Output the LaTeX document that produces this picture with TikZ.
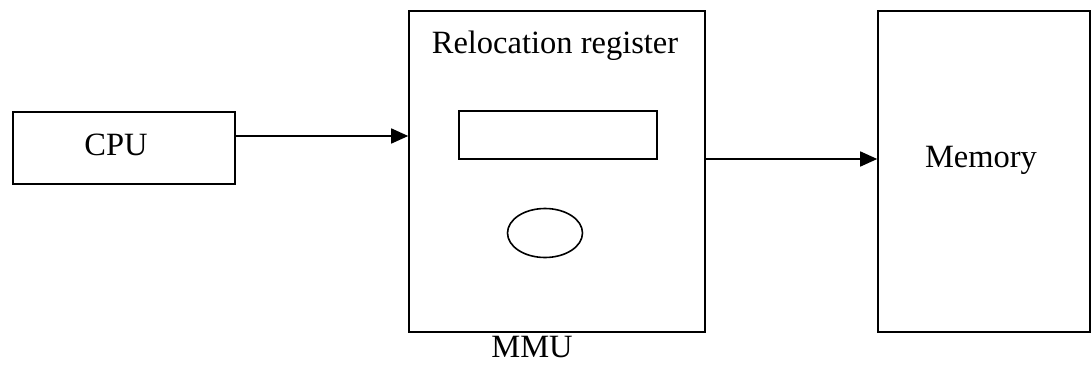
\documentclass[tikz,border=0pt]{standalone}
\usepackage{fontspec}
\setmainfont{Liberation Serif}
\usetikzlibrary{arrows.meta,shapes.geometric}
\begin{document}
\begin{tikzpicture}[x=1pt,y=-1pt,
  box/.style={draw,line width=1.6pt,inner sep=0pt},
  lbl/.style={font=\fontsize{32.5}{38}\selectfont,inner sep=0pt,anchor=base},
  conn/.style={line width=1.6pt,-{Triangle[length=17pt,width=15pt]}}]
\useasboundingbox (0,0) rectangle (1091,364);
\node[box,minimum width=222pt,minimum height=72pt] (cpu) at (124,148) {};
\node[box,minimum width=296pt,minimum height=321pt] (mmu) at (557,171.5) {};
\node[box,minimum width=212pt,minimum height=321pt] (mem) at (984,171.5) {};
\node[box,minimum width=198pt,minimum height=48pt] (reg) at (558,135) {};
\node[box,ellipse,minimum width=75pt,minimum height=49pt] (add) at (545,233) {};
\node[lbl] (cputxt) at (116,155) {CPU};
\node[lbl] (reltxt) at (555,53) {Relocation register};
\node[lbl,text depth=0pt] (mmutxt) at (532,357) {MMU};
\node[lbl] (memtxt) at (981,167) {Memory};
\draw[conn] (cpu.east |- 0,136) -- (mmu.west |- 0,136);
\draw[conn] (mmu.east |- 0,159) -- (mem.west |- 0,159);
\end{tikzpicture}
\end{document}
